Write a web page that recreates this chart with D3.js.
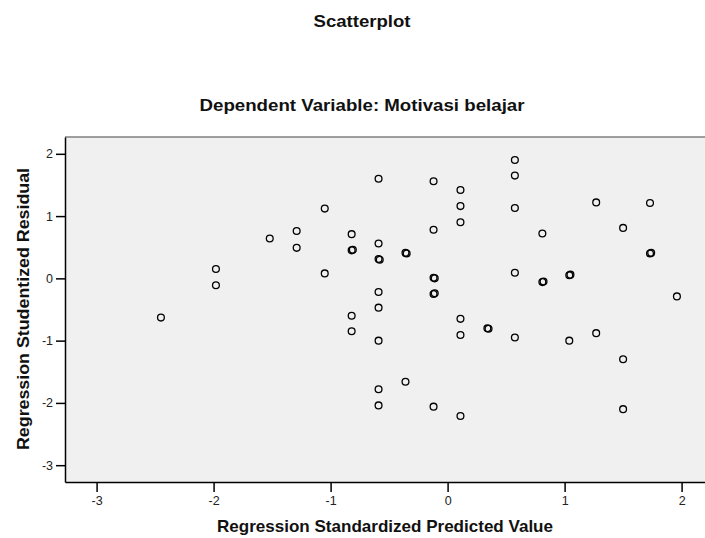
<!DOCTYPE html>
<html>
<head>
<meta charset="utf-8">
<script src="https://cdn.jsdelivr.net/npm/d3@7"></script>
<style>
    body { margin: 0; background: #fff; }
    text { font-family: "Liberation Sans", Arial, sans-serif; }
</style>
</head>
<body>
<div id="graph"></div>
<script>

/*********data*********/
const chartTitle = "Scatterplot";
const chartSubtitle = "Dependent Variable: Motivasi belajar";
const xLabel = "Regression Standardized Predicted Value";
const yLabel = "Regression Studentized Residual";
const xTicks = [-3, -2, -1, 0, 1, 2];
const yTicks = [-3, -2, -1, 0, 1, 2];

// predicted value (x) and residual (y)
const predicted = [
    -2.45, -1.98, -1.98, -1.52, -1.29, -1.29, -1.05, -1.05,
    -0.82, -0.82, -0.81, -0.82, -0.82,
    -0.59, -0.59, -0.59, -0.58, -0.59, -0.59, -0.59, -0.59, -0.59,
    -0.36, -0.35, -0.36,
    -0.12, -0.12, -0.12, -0.11, -0.12, -0.11, -0.12,
    0.11, 0.11, 0.11, 0.11, 0.11, 0.11,
    0.34, 0.35,
    0.575, 0.575, 0.575, 0.575, 0.575,
    0.81, 0.81, 0.82,
    1.04, 1.05, 1.04,
    1.27, 1.27,
    1.50, 1.50, 1.50,
    1.73, 1.73, 1.74,
    1.96
];
const residual = [
    -0.63, 0.15, -0.11, 0.64, 0.76, 0.49, 1.12, 0.08,
    0.71, 0.45, 0.46, -0.60, -0.85,
    1.60, 0.56, 0.31, 0.30, -0.22, -0.47, -1.00, -1.78, -2.04,
    0.41, 0.40, -1.66,
    1.56, 0.78, 0.01, 0.00, -0.25, -0.24, -2.06,
    1.42, 1.16, 0.90, -0.65, -0.91, -2.21,
    -0.80, -0.81,
    1.90, 1.65, 1.13, 0.09, -0.95,
    0.72, -0.06, -0.05,
    0.05, 0.06, -1.00,
    1.22, -0.88,
    0.81, -1.30, -2.10,
    1.21, 0.40, 0.41,
    -0.29
];

/*********chart*********/
const width = 705;
const height = 538;
const plot = {left: 65, right: 705, top: 137, bottom: 482};

const svg = d3.select("#graph")
    .append("svg")
    .attr("width", width)
    .attr("height", height);

let x = d3.scaleLinear().domain([-3.27, 2.2]).range([plot.left, plot.right]);
let y = d3.scaleLinear().domain([-3.27, 2.27]).range([plot.bottom, plot.top]);

// plain hyphen, integer labels like the SPSS output
const tickFmt = function (d) { return String(d); };

// plot background + grey top border
svg.append("rect")
    .attr("x", plot.left)
    .attr("y", plot.top)
    .attr("width", plot.right - plot.left)
    .attr("height", plot.bottom - plot.top)
    .attr("fill", "#f0f0f0");

svg.append("line")
    .attr("x1", plot.left).attr("x2", plot.right)
    .attr("y1", plot.top).attr("y2", plot.top)
    .attr("stroke", "#808080")
    .attr("stroke-width", 1.5);

// axes
const xAxis = svg.append("g")
    .attr("transform", "translate(0," + plot.bottom + ")")
    .call(d3.axisBottom(x).tickValues(xTicks).tickFormat(tickFmt)
        .tickSize(10).tickSizeOuter(0).tickPadding(4));

const yAxis = svg.append("g")
    .attr("transform", "translate(" + plot.left + ",0)")
    .call(d3.axisLeft(y).tickValues(yTicks).tickFormat(tickFmt)
        .tickSize(9).tickSizeOuter(0).tickPadding(3));

[xAxis, yAxis].forEach(function (g) {
    g.select(".domain").attr("stroke", "#000").attr("stroke-width", 1.5);
    g.selectAll(".tick line").attr("stroke", "#000").attr("stroke-width", 1.5);
    g.selectAll(".tick text")
        .attr("fill", "#222")
        .style("font-family", "'Liberation Sans', Arial, sans-serif")
        .style("font-size", "12.5px");
});

// points
const points = predicted.map(function (d, i) {
    return {x: d, y: residual[i]};
});

svg.selectAll(".dote")
    .data(points)
    .enter().append("circle")
    .attr("class", "dote")
    .attr("cx", function (d) { return x(d.x); })
    .attr("cy", function (d) { return y(d.y); })
    .attr("r", 3.4)
    .attr("fill", "none")
    .attr("stroke", "#000")
    .attr("stroke-width", 1.3);

// titles (the original text is a bit wider than Arial, so stretch it)
function boldText(str, tx, ty, len, rotate) {
    return svg.append("text")
        .attr("transform", "translate(" + tx + "," + ty + ")" + (rotate ? " rotate(-90)" : ""))
        .attr("text-anchor", "middle")
        .attr("font-weight", "bold")
        .attr("font-size", "17px")
        .attr("fill", "#111")
        .attr("textLength", len)
        .attr("lengthAdjust", "spacingAndGlyphs")
        .text(str);
}

boldText(chartTitle, 362, 27, 97, false);
boldText(chartSubtitle, 362, 111, 325, false);
boldText(xLabel, 385, 532, 336, false);
boldText(yLabel, 29, 309, 282, true);

</script>
</body>
</html>
